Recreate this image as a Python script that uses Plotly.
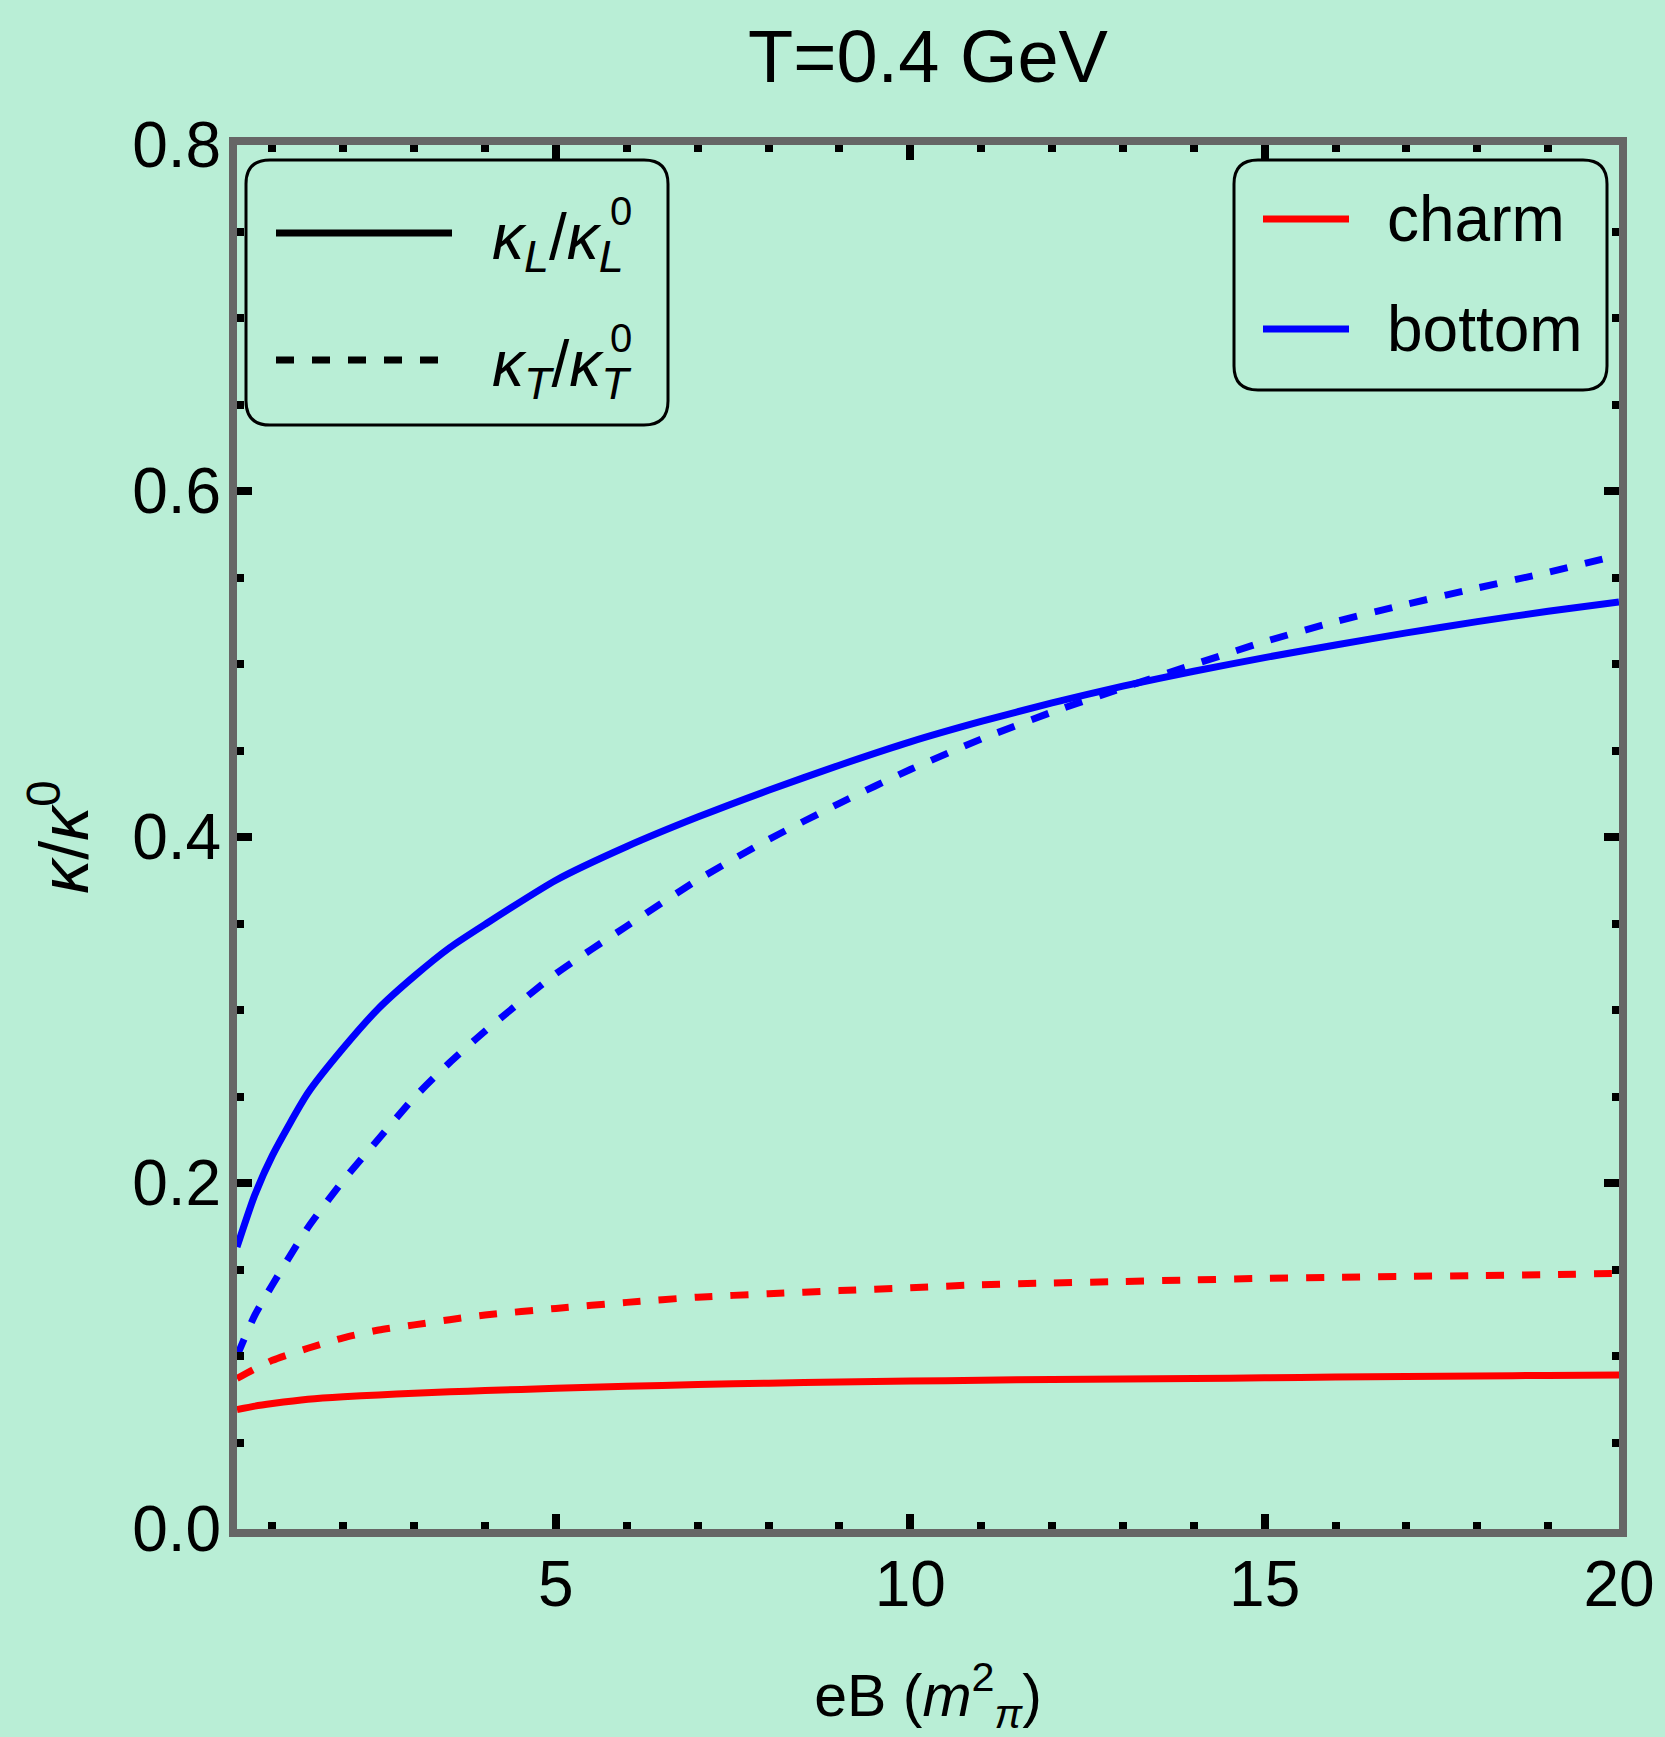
import plotly.graph_objects as go

# ---------------- data ----------------
eB = [0.5, 0.75, 1, 1.5, 2, 2.5, 3, 3.5, 4, 5, 6, 7, 8, 9, 10,
      11, 12, 13, 14, 15, 16, 17, 18, 19, 20]

charm_L = [0.069, 0.071, 0.0725, 0.075, 0.0765, 0.0775, 0.0785, 0.0793, 0.080,
           0.0813, 0.0825, 0.0835, 0.0843, 0.085, 0.0855, 0.086, 0.0864, 0.0867,
           0.087, 0.0874, 0.0878, 0.0882, 0.0885, 0.0888, 0.089]
charm_T = [0.087, 0.0925, 0.0975, 0.1045, 0.1105, 0.115, 0.118, 0.121, 0.1237,
           0.1275, 0.131, 0.134, 0.136, 0.1378, 0.1395, 0.1412, 0.1422, 0.1431,
           0.144, 0.1449, 0.1455, 0.146, 0.1465, 0.147, 0.1478]
bottom_L = [0.163, 0.193, 0.216, 0.252, 0.278, 0.301, 0.3195, 0.336, 0.3495,
            0.375, 0.3945, 0.4115, 0.427, 0.4415, 0.455, 0.4668, 0.4775, 0.4872,
            0.4958, 0.5037, 0.511, 0.518, 0.5245, 0.5305, 0.5358]
bottom_T = [0.100, 0.1235, 0.1412, 0.1742, 0.2015, 0.2256, 0.2494, 0.2696, 0.2878,
            0.321, 0.3485, 0.3752, 0.3985, 0.4195, 0.439, 0.4566, 0.4722, 0.4862,
            0.4997, 0.5129, 0.5245, 0.5345, 0.5439, 0.553, 0.563]

x_ticks = [5, 10, 15, 20]
y_ticks = [0.0, 0.2, 0.4, 0.6, 0.8]
y_tick_text = ["0.0", "0.2", "0.4", "0.6", "0.8"]

legend_style = [("L", "solid"), ("T", "18px,18px")]
legend_flavour = [("charm", "#ff0000"), ("bottom", "#0000ff")]

# ---------------- figure geometry ----------------
W, H = 1665, 1737
L, R, T, B = 237, 1619, 145, 1529   # plot area in pixels
BG = "#b9eed6"
FONT = "Liberation Sans, Arial, sans-serif"


def px(x):
    return (x - L) / (R - L)


def py(y):
    return (B - y) / (B - T)


fig = go.Figure()

series = [
    (charm_L, "#ff0000", "solid"),
    (charm_T, "#ff0000", "18px,18px"),
    (bottom_L, "#0000ff", "solid"),
    (bottom_T, "#0000ff", "18px,18px"),
]
for ys, col, dash in series:
    fig.add_trace(go.Scatter(x=eB, y=ys, mode="lines",
                             line=dict(color=col, width=7, dash=dash,
                                       shape="spline", smoothing=0.6),
                             showlegend=False, hoverinfo="skip"))

axis_common = dict(
    showline=True, linecolor="#666666", linewidth=8, mirror="allticks",
    ticks="inside", tickcolor="black", tickwidth=8,
    showgrid=False, zeroline=False,
    tickfont=dict(family=FONT, size=64, color="black"),
)

fig.update_xaxes(
    range=[0.5, 20], tickvals=x_ticks, ticklen=15,
    minor=dict(ticks="inside", dtick=1, tick0=0, ticklen=7, tickwidth=8,
               tickcolor="black", showgrid=False),
    ticklabelstandoff=-8,
    title=dict(text="eB (<i>m</i><sup>2</sup><sub><i>π</i></sub>)",
               font=dict(family=FONT, size=59, color="black"), standoff=60),
    **axis_common)
fig.update_yaxes(
    range=[0, 0.8], tickvals=y_ticks, ticktext=y_tick_text, ticklen=15,
    minor=dict(ticks="inside", dtick=0.05, tick0=0, ticklen=7, tickwidth=8,
               tickcolor="black", showgrid=False),
    ticklabelstandoff=-5,
    title=dict(text="<i>κ</i>/<i>κ</i><sup>0</sup>",
               font=dict(family=FONT, size=68, color="black"), standoff=24),
    **axis_common)


def rounded_box(x0, y0, x1, y1, r):
    X0, X1 = px(x0), px(x1)
    Y0, Y1 = py(y0), py(y1)
    rx = r / (R - L)
    ry = r / (B - T)
    return (f"M{X0 + rx},{Y0} L{X1 - rx},{Y0} Q{X1},{Y0} {X1},{Y0 - ry} "
            f"L{X1},{Y1 + ry} Q{X1},{Y1} {X1 - rx},{Y1} "
            f"L{X0 + rx},{Y1} Q{X0},{Y1} {X0},{Y1 + ry} "
            f"L{X0},{Y0 - ry} Q{X0},{Y0} {X0 + rx},{Y0} Z")


shapes = []
annotations = []

# legend 1: line styles
shapes.append(dict(type="path", xref="paper", yref="paper",
                   path=rounded_box(246, 160, 668, 425, 24),
                   line=dict(color="black", width=3), fillcolor=BG, layer="above"))
for i, (sub, dash) in enumerate(legend_style):
    yy = [233, 360][i]
    shapes.append(dict(type="line", xref="paper", yref="paper",
                       x0=px(276), x1=px(452), y0=py(yy), y1=py(yy),
                       line=dict(color="black", width=7, dash=dash), layer="above"))
    label = (f"<i>κ</i><sub><i>{sub}</i></sub>/<i>κ</i>"
             f"<sub><i>{sub}</i></sub>")
    annotations.append(dict(xref="paper", yref="paper", x=px(490), y=py(yy + 8),
                            xanchor="left", yanchor="middle", showarrow=False,
                            text=label,
                            font=dict(family=FONT, size=64, color="black")))
    annotations.append(dict(xref="paper", yref="paper", x=px(608), y=py(yy - 22),
                            xanchor="left", yanchor="middle", showarrow=False,
                            text="0",
                            font=dict(family=FONT, size=40, color="black")))

# legend 2: flavours
shapes.append(dict(type="path", xref="paper", yref="paper",
                   path=rounded_box(1234, 160, 1607, 390, 24),
                   line=dict(color="black", width=3), fillcolor=BG, layer="above"))
for i, (label, col) in enumerate(legend_flavour):
    yy = [219, 329][i]
    shapes.append(dict(type="line", xref="paper", yref="paper",
                       x0=px(1263), x1=px(1349), y0=py(yy), y1=py(yy),
                       line=dict(color=col, width=7), layer="above"))
    annotations.append(dict(xref="paper", yref="paper", x=px(1385), y=py(yy),
                            xanchor="left", yanchor="middle", showarrow=False,
                            text=label,
                            font=dict(family=FONT, size=64, color="black")))

fig.update_layout(
    width=W, height=H,
    margin=dict(l=L, r=W - R, t=T, b=H - B, pad=0),
    paper_bgcolor=BG, plot_bgcolor=BG,
    template="none",
    title=dict(text="T=0.4 GeV", x=0.5, xref="paper", xanchor="center",
               y=1 - 56 / H, yref="container", yanchor="middle",
               font=dict(family=FONT, size=74, color="black")),
    shapes=shapes, annotations=annotations,
    showlegend=False,
)
fig.update_xaxes(automargin=False)
fig.update_yaxes(automargin=False)

fig.write_html("out.html",
               config={"displayModeBar": False},
               post_script="document.body.style.margin='0';"
                           "document.documentElement.style.overflow='hidden';")
